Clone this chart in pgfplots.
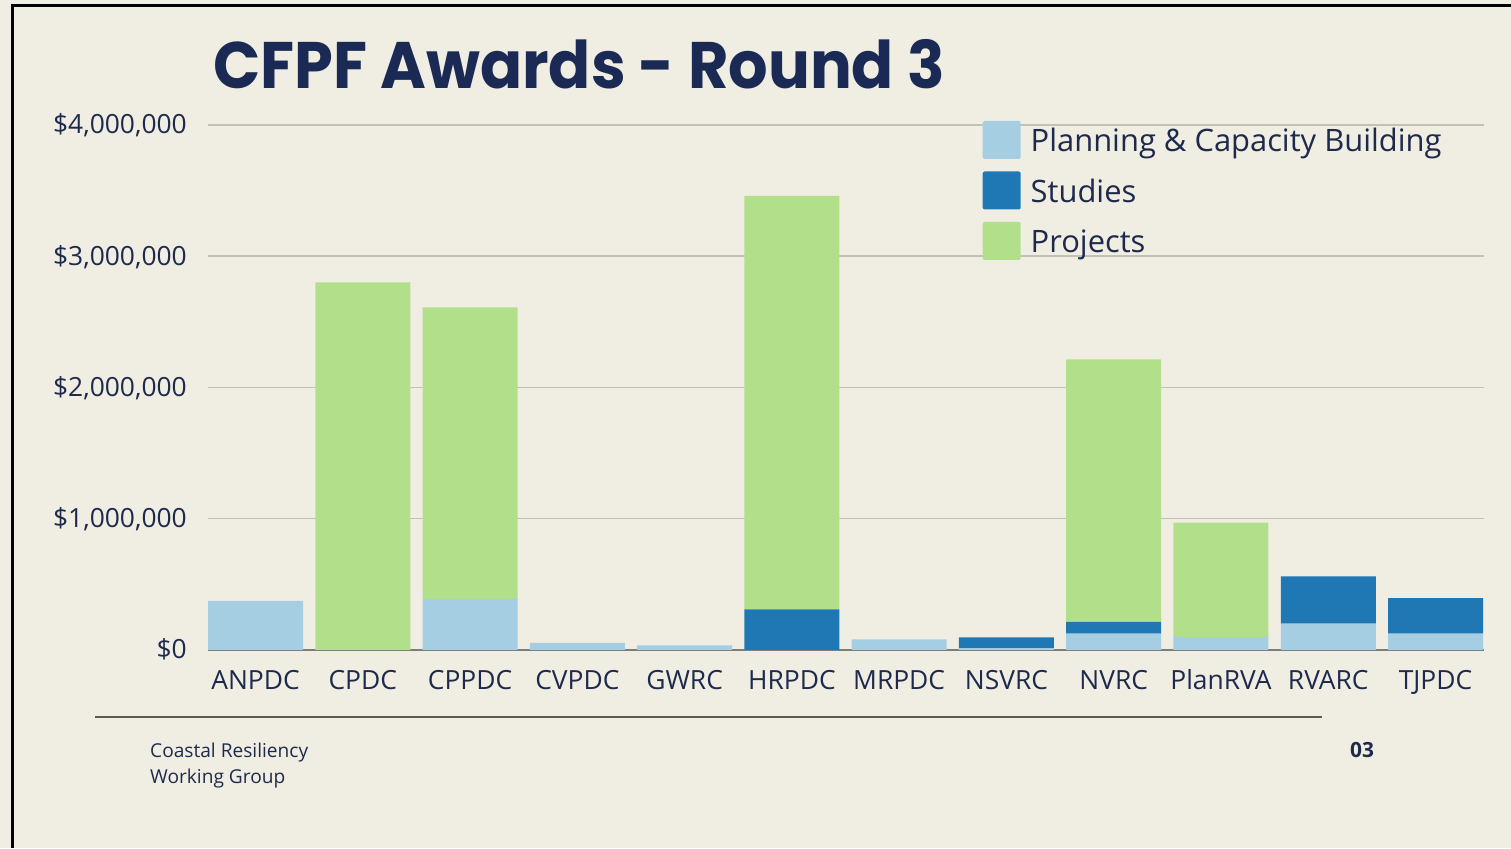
\documentclass[border=0pt]{standalone}
\usepackage{pgfplots}
\pgfplotsset{compat=1.18}
\usepackage{fontspec}
\setmainfont{Open Sans}
\newfontfamily\titlefont{Poppins}
\definecolor{bgc}{HTML}{F0EEE3}
\definecolor{navy}{HTML}{1E2A4C}
\definecolor{titlec}{HTML}{1B2A55}
\definecolor{plan}{HTML}{A6CEE3}
\definecolor{stud}{HTML}{1F78B4}
\definecolor{proj}{HTML}{B2DF8A}
\definecolor{gridc}{HTML}{C2C1B8}
\definecolor{basec}{HTML}{7E7E7A}
\definecolor{footc}{HTML}{5A5A52}
\begin{document}
\begin{tikzpicture}[x=1bp,y=1bp]
\useasboundingbox (0,0) rectangle (1511,848);
\fill[bgc] (0,0) rectangle (1511,848);
\draw[black, line width=3bp] (12,0) -- (12,842) -- (1511,842);
\node[anchor=base west, inner sep=0, font=\titlefont\bfseries\fontsize{66}{66}\selectfont, text=titlec] at (213,759) {\scalebox{0.945}[1]{CFPF Awards - Round 3}};
\draw[footc, line width=2.2bp] (95,131) -- (1322,131);
\node[anchor=base west, inner sep=0, font=\fontsize{19.2}{19.2}\selectfont, text=navy] at (150,91) {Coastal Resiliency};
\node[anchor=base west, inner sep=0, font=\fontsize{19.2}{19.2}\selectfont, text=navy] at (150,65) {Working Group};
\node[anchor=base west, inner sep=0, font=\bfseries\fontsize{21}{21}\selectfont, text=navy] at (1350,91) {03};
\begin{axis}[
  at={(208bp,198bp)}, anchor=south west,
  scale only axis, width=1276bp, height=525bp,
  xmin=-0.443, xmax=11.452, ymin=0, ymax=4,
  ybar stacked, bar width=95bp,
  axis line style={draw=none}, major tick length=0pt,
  ytick={1,2,3,4},
  yticklabels={{\$1,000,000},{\$2,000,000},{\$3,000,000},{\$4,000,000}},
  extra y ticks={0}, extra y tick labels={\$0},
  extra y tick style={grid style={basec, line width=2bp}},
  ymajorgrids, grid style={gridc, line width=1.5bp},
  xtick={0,...,11},
  xticklabels={ANPDC,CPDC,CPPDC,CVPDC,GWRC,HRPDC,MRPDC,NSVRC,NVRC,PlanRVA,RVARC,TJPDC},
  tick label style={font=\fontsize{26.5}{26.5}\selectfont, text=navy, inner sep=0pt},
  yticklabel style={anchor=base east, xshift=-21bp, yshift=-9bp},
  xticklabel style={anchor=base, yshift=-40bp},
  legend style={at={(0.607,1.008)}, anchor=north west, draw=none, fill=none, inner sep=0pt,
    font=\fontsize{31}{31}\selectfont, text=navy,
    nodes={inner sep=0pt, text height=24bp, text depth=8bp},
    /tikz/column sep=10bp, /tikz/row sep=11.5bp},
  legend cell align=left,
  legend image code/.code={\fill[#1, draw=none, rounded corners=2bp] (0bp,-15bp) rectangle (38bp,23bp);},
]
\addplot[fill=plan, draw=none] coordinates {(0,0.375) (1,0) (2,0.39) (3,0.055) (4,0.035) (5,0) (6,0.08) (7,0.012) (8,0.125) (9,0.10) (10,0.20) (11,0.125)};
\addplot[fill=stud, draw=none] coordinates {(0,0) (1,0) (2,0) (3,0) (4,0) (5,0.31) (6,0) (7,0.085) (8,0.09) (9,0) (10,0.36) (11,0.27)};
\addplot[fill=proj, draw=none] coordinates {(0,0) (1,2.80) (2,2.22) (3,0) (4,0) (5,3.15) (6,0) (7,0) (8,2.00) (9,0.87) (10,0) (11,0)};
\legend{Planning \& Capacity Building, Studies, Projects}
\end{axis}
\end{tikzpicture}
\end{document}
